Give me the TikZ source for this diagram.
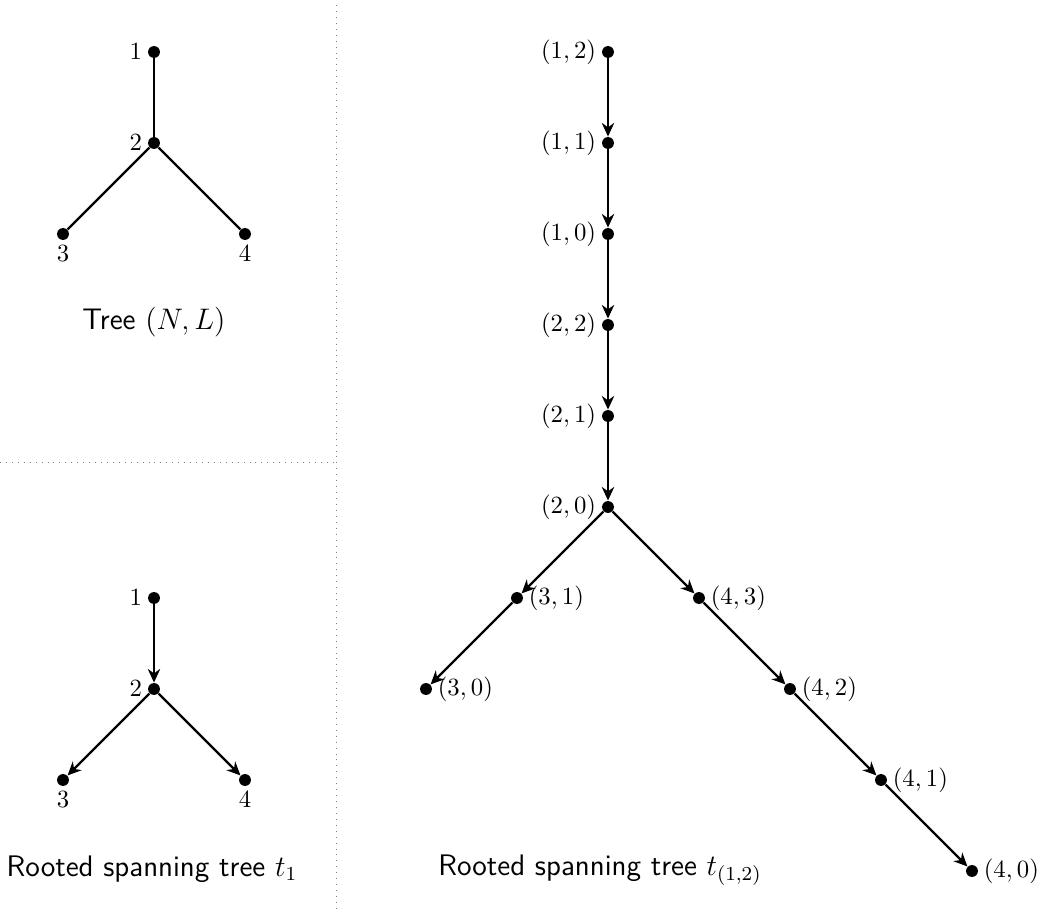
\documentclass[tikz,border=0pt]{standalone}
\usetikzlibrary{arrows.meta}
\begin{document}
\begin{tikzpicture}[x=0.404pt,y=-0.404pt,
  vert/.style={circle,fill=black,inner sep=0pt,minimum size=4.8pt},
  edge/.style={line width=0.9pt},
  arc/.style={line width=0.9pt,-{Stealth[length=5.5pt,width=5pt]}},
  sep/.style={gray,dotted,thin},
  every label/.style={inner sep=2pt},
  caption/.style={font=\sffamily\large}]
\useasboundingbox (0,0) rectangle (1040,913);
% separators
\coordinate (vt) at (336,5);
\coordinate (vb) at (336,913);
\coordinate (hl) at (0,462);
\coordinate (hr) at (336,462);
\draw[sep] (vt) -- (vb);
\draw[sep] (hl) -- (hr);
% Tree (N,L)
\node[vert,label=left:$1$] (a1) at (154,52) {};
\node[vert,label=left:$2$] (a2) at (154,143) {};
\node[vert,label=below:$3$] (a3) at (63,234) {};
\node[vert,label=below:$4$] (a4) at (245,234) {};
\draw[edge] (a1) -- (a2);
\draw[edge] (a2) -- (a3);
\draw[edge] (a2) -- (a4);
\node[caption] (capa) at (154,322) {Tree $(N,L)$};
% Rooted spanning tree t_1
\node[vert,label=left:$1$] (b1) at (154,598) {};
\node[vert,label=left:$2$] (b2) at (154,689) {};
\node[vert,label=below:$3$] (b3) at (63,780) {};
\node[vert,label=below:$4$] (b4) at (245,780) {};
\draw[arc] (b1) -- (b2);
\draw[arc] (b2) -- (b3);
\draw[arc] (b2) -- (b4);
\node[caption] (capb) at (152,869) {Rooted spanning tree $t_1$};
% Rooted spanning tree t_(1,2)
\node[vert,label=left:{$(1,2)$}] (c12) at (608,52) {};
\node[vert,label=left:{$(1,1)$}] (c11) at (608,143) {};
\node[vert,label=left:{$(1,0)$}] (c10) at (608,234) {};
\node[vert,label=left:{$(2,2)$}] (c22) at (608,325) {};
\node[vert,label=left:{$(2,1)$}] (c21) at (608,416) {};
\node[vert,label=left:{$(2,0)$}] (c20) at (608,507) {};
\node[vert,label=right:{$(3,1)$}] (c31) at (517,598) {};
\node[vert,label=right:{$(3,0)$}] (c30) at (426,689) {};
\node[vert,label=right:{$(4,3)$}] (c43) at (699,598) {};
\node[vert,label=right:{$(4,2)$}] (c42) at (790,689) {};
\node[vert,label=right:{$(4,1)$}] (c41) at (881,780) {};
\node[vert,label=right:{$(4,0)$}] (c40) at (972,871) {};
\draw[arc] (c12) -- (c11);
\draw[arc] (c11) -- (c10);
\draw[arc] (c10) -- (c22);
\draw[arc] (c22) -- (c21);
\draw[arc] (c21) -- (c20);
\draw[arc] (c20) -- (c31);
\draw[arc] (c31) -- (c30);
\draw[arc] (c20) -- (c43);
\draw[arc] (c43) -- (c42);
\draw[arc] (c42) -- (c41);
\draw[arc] (c41) -- (c40);
\node[caption] (capc) at (600,870) {Rooted spanning tree $t_{(1,2)}$};
\end{tikzpicture}
\end{document}
